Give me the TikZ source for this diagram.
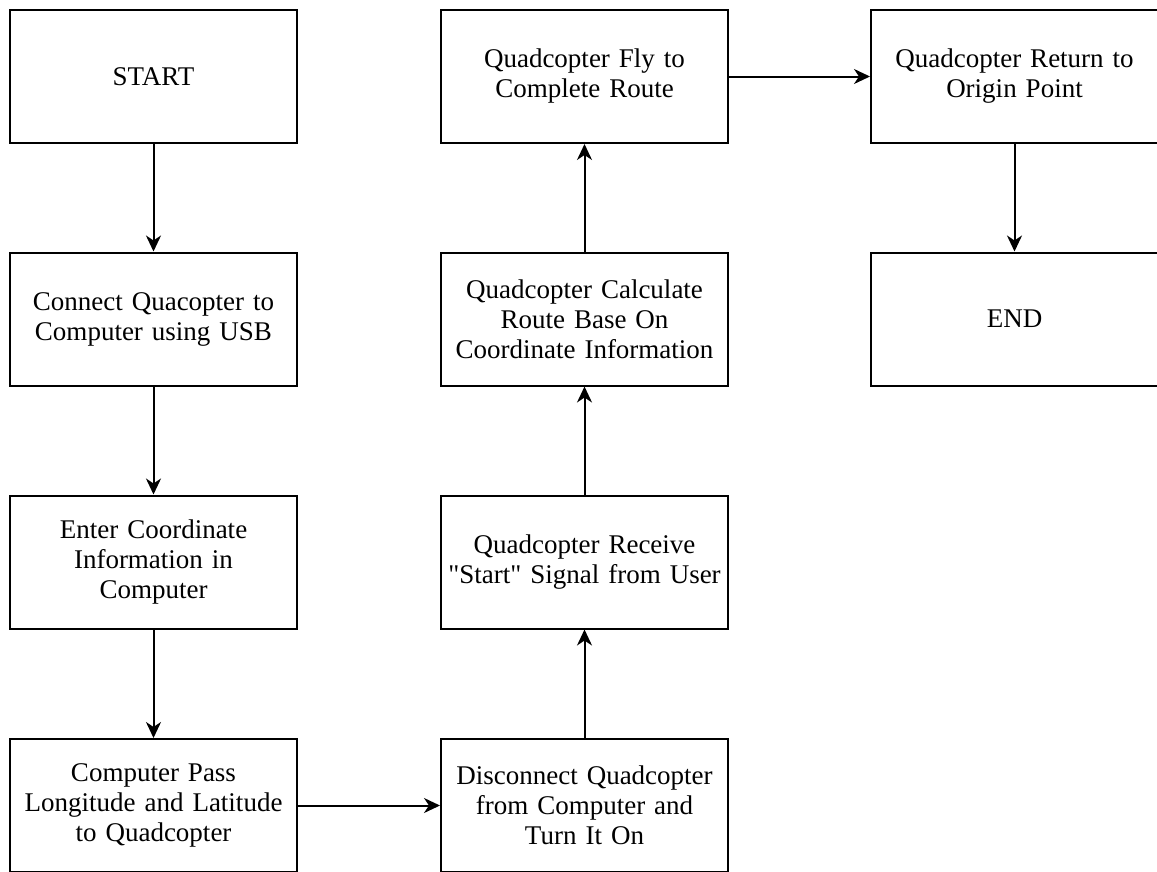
\documentclass[tikz,border=0pt]{standalone}
\usepackage{fontspec}
\setmainfont{Liberation Serif}[Ligatures=TeXOff]
\usetikzlibrary{arrows.meta}
\tikzstyle{stepbox} = [draw, line width=2pt, minimum width=287pt, minimum height=133pt,
    text width=282pt, inner sep=1pt, align=center,
    font=\fontsize{27pt}{30pt}\selectfont]
\tikzset{flow/.style={line width=2pt, -{Stealth[length=16pt,width=15pt,inset=5pt]}}}

\begin{document}
\begin{tikzpicture}[x=1pt,y=-1pt]
    \useasboundingbox (0,0) rectangle (1157,871);
    % first column
    \node[stepbox] (start)    at (153.5,76.5)  {START};
    \node[stepbox] (connect)  at (153.5,319)   {Connect Quacopter to\\Computer using USB};
    \node[stepbox] (enter)    at (153.5,562)   {Enter Coordinate\\Information in\\Computer};
    \node[stepbox] (pass)     at (153.5,805.5) {Computer Pass\\Longitude and Latitude\\to Quadcopter};
    % second column
    \node[stepbox] (disconn)  at (584.5,805.5) {Disconnect Quadcopter\\from Computer and\\Turn It On};
    \node[stepbox] (receive)  at (584.5,562)   {Quadcopter Receive\\"Start" Signal from User};
    \node[stepbox] (calc)     at (584.5,319)   {Quadcopter Calculate\\Route Base On\\Coordinate Information};
    \node[stepbox] (fly)      at (584.5,76.5)  {Quadcopter Fly to\\Complete Route};
    % third column
    \node[stepbox] (return)   at (1014.5,76.5) {Quadcopter Return to\\Origin Point};
    \node[stepbox] (finish)   at (1014.5,319)  {END};
    %
    \draw[flow] (start) -- (connect);
    \draw[flow] (connect) -- (enter);
    \draw[flow] (enter) -- (pass);
    \draw[flow] (pass) -- (disconn);
    \draw[flow] (disconn) -- (receive);
    \draw[flow] (receive) -- (calc);
    \draw[flow] (calc) -- (fly);
    \draw[flow] (fly) -- (return);
    \draw[flow] (return) -- (finish);
\end{tikzpicture}
\end{document}
